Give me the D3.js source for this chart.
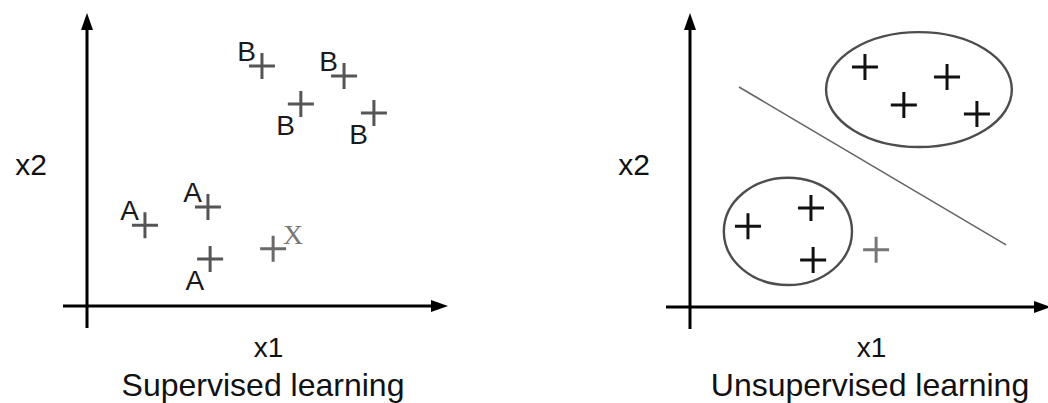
<!DOCTYPE html>
<html>
<head>
<meta charset="utf-8">
<script src="https://cdn.jsdelivr.net/npm/d3@7"></script>
<style>
  html, body { margin: 0; padding: 0; background: #fff; }
  svg { display: block; font-family: "Liberation Sans", Arial, sans-serif; }
</style>
</head>
<body>
<svg id="chart" width="1048" height="403"></svg>
<script>
// points shared by both panels (data units, 0..10 on each axis)
var pointX = [4.86, 7.14, 5.94, 7.97, 1.61, 3.36, 3.42, 5.17];
var pointY = [8.19, 7.85, 6.89, 6.59, 2.76, 3.38, 1.60, 1.95];
var pointClass = ['B', 'B', 'B', 'B', 'A', 'A', 'A', 'X'];
var labelSide = ['nw', 'nw', 'sw', 'sw', 'nw', 'nw', 'sw', 'ne'];

// unsupervised panel: cluster each point falls in (-1 = none)
var pointCluster = [0, 0, 0, 0, 1, 1, 1, -1];
var clusterCx = [6.36, 2.72];
var clusterCy = [7.42, 2.58];
var clusterRx = [2.58, 1.78];
var clusterRy = [1.96, 1.83];
var boundaryX = [1.36, 8.78];
var boundaryY = [7.51, 2.12];

var axisNames = ['x1', 'x2'];
var panelTitles = ['Supervised learning', 'Unsupervised learning'];

var svg = d3.select('#chart');
var panels = [
  { left: 87, bottom: 306, title: panelTitles[0], titleX: 263 },
  { left: 690, bottom: 307, title: panelTitles[1], titleX: 870 }
];

panels.forEach(function(p, pi) {
  var x = d3.scaleLinear().domain([0, 10]).range([p.left, p.left + 360]);
  var y = d3.scaleLinear().domain([0, 10]).range([p.bottom, p.bottom - 293]);
  var g = svg.append('g');

  // axes with arrow heads
  var top = 13, xEnd = p.left + 361;
  g.append('line')
    .attr('x1', p.left).attr('y1', p.bottom + 22)
    .attr('x2', p.left).attr('y2', top + 12)
    .attr('stroke', '#000').attr('stroke-width', 3);
  g.append('line')
    .attr('x1', p.left - 24).attr('y1', p.bottom)
    .attr('x2', xEnd - 12).attr('y2', p.bottom)
    .attr('stroke', '#000').attr('stroke-width', 3);
  g.append('path')
    .attr('d', 'M' + p.left + ',' + top + 'L' + (p.left - 6) + ',' + (top + 17) + 'L' + (p.left + 6) + ',' + (top + 17) + 'Z')
    .attr('fill', '#000');
  g.append('path')
    .attr('d', 'M' + xEnd + ',' + p.bottom + 'L' + (xEnd - 17) + ',' + (p.bottom - 6) + 'L' + (xEnd - 17) + ',' + (p.bottom + 6) + 'Z')
    .attr('fill', '#000');

  // axis names and panel title
  g.append('text')
    .attr('x', (p.left + xEnd) / 2 + 1).attr('y', 357)
    .attr('text-anchor', 'middle').attr('font-size', 28).attr('fill', '#111')
    .text(axisNames[0]);
  g.append('text')
    .attr('x', p.left - 40).attr('y', 175)
    .attr('text-anchor', 'end').attr('font-size', 30).attr('fill', '#111')
    .text(axisNames[1]);
  g.append('text')
    .attr('x', p.titleX).attr('y', 396)
    .attr('text-anchor', 'middle').attr('font-size', 32).attr('fill', '#111')
    .text(p.title);

  var pts = pointX.map(function(d, i) {
    return { x: d, y: pointY[i], cls: pointClass[i], side: labelSide[i], cluster: pointCluster[i] };
  });

  if (pi === 1) {
    g.selectAll('ellipse.cluster')
      .data(clusterCx)
      .enter().append('ellipse')
      .attr('cx', function(d) { return x(d); })
      .attr('cy', function(d, i) { return y(clusterCy[i]); })
      .attr('rx', function(d, i) { return x(clusterRx[i]) - x(0); })
      .attr('ry', function(d, i) { return y(0) - y(clusterRy[i]); })
      .attr('fill', 'none').attr('stroke', '#4d4d4d').attr('stroke-width', 2.4);
    g.append('line')
      .attr('x1', x(boundaryX[0])).attr('y1', y(boundaryY[0]))
      .attr('x2', x(boundaryX[1])).attr('y2', y(boundaryY[1]))
      .attr('stroke', '#666').attr('stroke-width', 1.6);
  }

  var marks = g.selectAll('g.pt')
    .data(pts)
    .enter().append('g')
    .attr('transform', function(d) { return 'translate(' + x(d.x) + ',' + y(d.y) + ')'; });

  marks.append('path')
    .attr('d', 'M-13,0H13M0,-13V13')
    .attr('stroke-width', 3)
    .attr('stroke', function(d) {
      if (pi === 0) return d.cls === 'X' ? '#6a6a6a' : '#555';
      return d.cluster < 0 ? '#777' : '#111';
    });

  if (pi === 0) {
    marks.append('text')
      .attr('x', function(d) { return d.side === 'ne' ? 10 : -6; })
      .attr('y', function(d) { return d.side === 'sw' ? 31 : -5; })
      .attr('text-anchor', function(d) { return d.side === 'ne' ? 'start' : 'end'; })
      .attr('font-size', 28)
      .attr('font-family', function(d) { return d.cls === 'X' ? '"Liberation Serif", "Times New Roman", serif' : null; })
      .attr('fill', function(d) { return d.cls === 'X' ? '#777' : '#1a1a1a'; })
      .text(function(d) { return d.cls; });
  }
});
</script>
</body>
</html>
